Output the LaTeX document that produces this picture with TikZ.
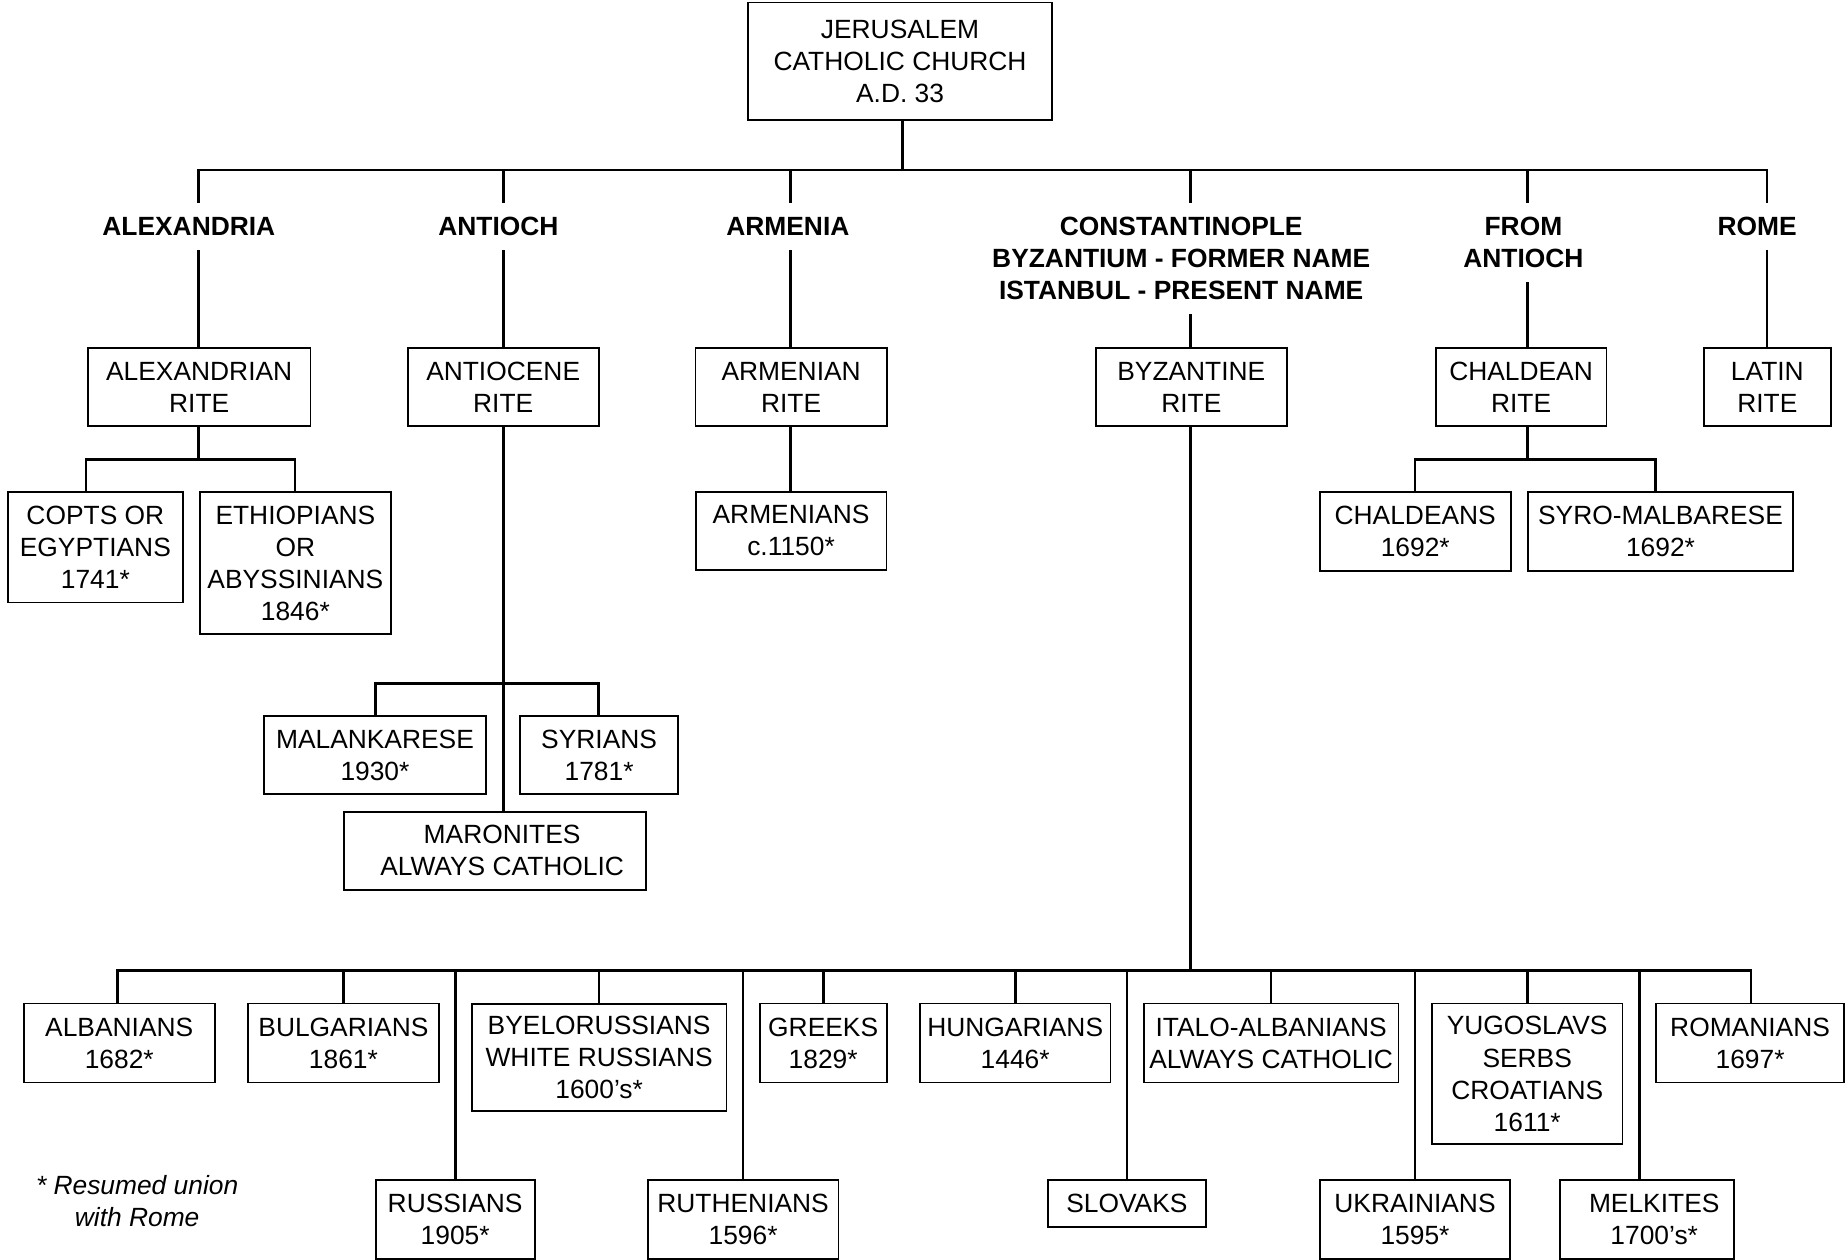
\documentclass[tikz,border=0pt]{standalone}
\usepackage{fontspec}
\setmainfont{Liberation Sans}
\newcommand\chartfont{\fontsize{22.4}{27.2}\selectfont}
\newcommand\chartbold{\fontsize{22.4}{27.2}\selectfont\bfseries}
\newcommand\chartit{\fontsize{22.4}{27.2}\selectfont\itshape}
\begin{document}
\begin{tikzpicture}[x=1pt,y=-1pt,
  box/.style={draw, line width=1.5pt, inner sep=0pt, align=center, font=\chartfont},
  hdr/.style={inner xsep=0pt, inner ysep=12pt, align=center, font=\chartbold},
  conn/.style={line width=2.3pt}]
\useasboundingbox (0,0) rectangle (1568,1070.2);

% top
\node[box, minimum width=258.7pt, minimum height=99.6pt] (jer) at (764.5,52) {JERUSALEM\\CATHOLIC CHURCH\\A.D. 33};

% headers
\node[hdr] (hA) at (160.4,192.5) {ALEXANDRIA};
\node[hdr] (hB) at (423.4,192.5) {ANTIOCH};
\node[hdr] (hC) at (669.2,192.5) {ARMENIA};
\node[hdr] (hD) at (1003.3,219.5) {CONSTANTINOPLE\\BYZANTIUM - FORMER NAME\\ISTANBUL - PRESENT NAME};
\node[hdr] (hE) at (1294,206) {FROM\\ANTIOCH};
\node[hdr] (hF) at (1492.5,192.5) {ROME};

% rites
\node[box, minimum width=189pt, minimum height=66.3pt] (rA) at (169.2,329) {ALEXANDRIAN\\RITE};
\node[box, minimum width=162.2pt, minimum height=66.3pt] (rB) at (427.4,329) {ANTIOCENE\\RITE};
\node[box, minimum width=162.3pt, minimum height=66.3pt] (rC) at (672,329) {ARMENIAN\\RITE};
\node[box, minimum width=162.1pt, minimum height=66.3pt] (rD) at (1011.9,329) {BYZANTINE\\RITE};
\node[box, minimum width=145.1pt, minimum height=66.3pt] (rE) at (1292,329) {CHALDEAN\\RITE};
\node[box, minimum width=107.9pt, minimum height=66.3pt] (rF) at (1501.2,329) {LATIN\\RITE};

% second level
\node[box, minimum width=148.4pt, minimum height=93.7pt] (copts) at (81,465) {COPTS OR\\EGYPTIANS\\1741*};
\node[box, minimum width=162pt, minimum height=120.6pt] (eth) at (250.9,478.5) {ETHIOPIANS\\OR\\ABYSSINIANS\\1846*};
\node[box, minimum width=162pt, minimum height=66.6pt] (arms) at (671.9,450.9) {ARMENIANS\\c.1150*};
\node[box, minimum width=162.2pt, minimum height=67pt] (chal) at (1202.1,451.2) {CHALDEANS\\1692*};
\node[box, minimum width=224.7pt, minimum height=67pt] (syro) at (1410.4,451.2) {SYRO-MALBARESE\\1692*};
\node[box, minimum width=189.1pt, minimum height=66.8pt] (mal) at (318.5,641.3) {MALANKARESE\\1930*};
\node[box, minimum width=134.5pt, minimum height=66.8pt] (syr) at (508.9,641.3) {SYRIANS\\1781*};
\node[box, minimum width=256.3pt, minimum height=66.6pt] (mar) at (420.5,722.7) {\hspace*{12pt}MARONITES\\\hspace*{12pt}ALWAYS CATHOLIC};

% bottom row 1
\node[box, minimum width=162.3pt, minimum height=67.1pt] (alb) at (101.3,886) {ALBANIANS\\1682*};
\node[box, minimum width=162.2pt, minimum height=67.1pt] (bul) at (291.7,886) {BULGARIANS\\1861*};
\node[box, minimum width=216.4pt, minimum height=91.2pt] (bye) at (508.9,898.1) {BYELORUSSIANS\\WHITE RUSSIANS\\1600’s*};
\node[box, minimum width=107.9pt, minimum height=67.1pt] (gre) at (699.2,886) {GREEKS\\1829*};
\node[box, minimum width=161.9pt, minimum height=67.1pt] (hun) at (862.3,886) {HUNGARIANS\\1446*};
\node[box, minimum width=216.3pt, minimum height=67.1pt] (ita) at (1079.7,886) {ITALO-ALBANIANS\\ALWAYS CATHOLIC};
\node[box, minimum width=161.8pt, minimum height=119.5pt] (yug) at (1297.2,912.2) {YUGOSLAVS\\SERBS\\CROATIANS\\1611*};
\node[box, minimum width=160pt, minimum height=67.1pt] (rom) at (1486.5,886) {ROMANIANS\\1697*};

% bottom row 2
\node[box, minimum width=135pt, minimum height=67.4pt] (rus) at (386.6,1035.7) {RUSSIANS\\1905*};
\node[box, minimum width=161.9pt, minimum height=67.4pt] (rut) at (631.2,1035.7) {RUTHENIANS\\1596*};
\node[box, minimum width=134.7pt, minimum height=40pt] (slo) at (957.2,1022) {SLOVAKS};
\node[box, minimum width=161.8pt, minimum height=67.4pt] (ukr) at (1201.9,1035.7) {UKRAINIANS\\1595*};
\node[box, minimum width=147.8pt, minimum height=67.4pt] (mel) at (1399.1,1035.7) {\hspace*{12pt}MELKITES\\\hspace*{12pt}1700’s*};

% footnote
\node[font=\chartit, align=center, inner sep=0pt] (note) at (116.5,1020.5) {* Resumed union\\with Rome};

% column coordinates on the top bar
\coordinate (jx) at (766.6,144.4);
\coordinate (cA) at (168.6,144.4);
\coordinate (cB) at (427.6,144.4);
\coordinate (cC) at (671.5,144.4);
\coordinate (cD) at (1011.4,144.4);
\coordinate (cE) at (1297.4,144.4);
\coordinate (cF) at (1500.8,144.4);

% top connectors
\draw[conn] (jer.south -| jx) -- (jx);
\draw[conn] (cA |- hA.north) -- (cA) -- (cF) -- (cF |- hF.north);
\draw[conn] (cB) -- (cB |- hB.north);
\draw[conn] (cC) -- (cC |- hC.north);
\draw[conn] (cD) -- (cD |- hD.north);
\draw[conn] (cE) -- (cE |- hE.north);
\draw[conn] (cA |- hA.south) -- (cA |- rA.north);
\draw[conn] (cB |- hB.south) -- (cB |- rB.north);
\draw[conn] (cC |- hC.south) -- (cC |- rC.north);
\draw[conn] (cD |- hD.south) -- (cD |- rD.north);
\draw[conn] (cE |- hE.south) -- (cE |- rE.north);
\draw[conn] (cF |- hF.south) -- (cF |- rF.north);

% Alexandria subtree
\coordinate (aL) at (73,390.2);
\coordinate (aR) at (250.6,390.2);
\draw[conn] (cA |- rA.south) -- (cA |- aL);
\draw[conn] (aL |- copts.north) -- (aL) -- (aR) -- (aR |- eth.north);

% Antioch subtree
\coordinate (bL) at (318.7,580.4);
\coordinate (bR) at (508.2,580.4);
\draw[conn] (cB |- rB.south) -- (cB |- mar.north);
\draw[conn] (bL |- mal.north) -- (bL) -- (bR) -- (bR |- syr.north);

% Armenia
\draw[conn] (cC |- rC.south) -- (cC |- arms.north);

% Chaldean subtree
\coordinate (eL) at (1201.8,390.2);
\coordinate (eR) at (1405.9,390.2);
\draw[conn] (cE |- rE.south) -- (cE |- eL);
\draw[conn] (eL |- chal.north) -- (eL) -- (eR) -- (eR |- syro.north);

% Byzantine subtree
\coordinate (zL) at (100.1,824.2);
\coordinate (zR) at (1487.2,824.2);
\coordinate (zM) at (1392.7,824.2);
\draw[conn] (cD |- rD.south) -- (cD |- zL);
\draw[conn] (zL |- alb.north) -- (zL) -- (zR) -- (zR |- rom.north);
\foreach \n in {bul,rus,bye,rut,gre,hun,slo,ita,ukr,yug}
  \draw[conn] (\n.north |- zL) -- (\n.north);
\draw[conn] (zM) -- (zM |- mel.north);
\end{tikzpicture}
\end{document}
